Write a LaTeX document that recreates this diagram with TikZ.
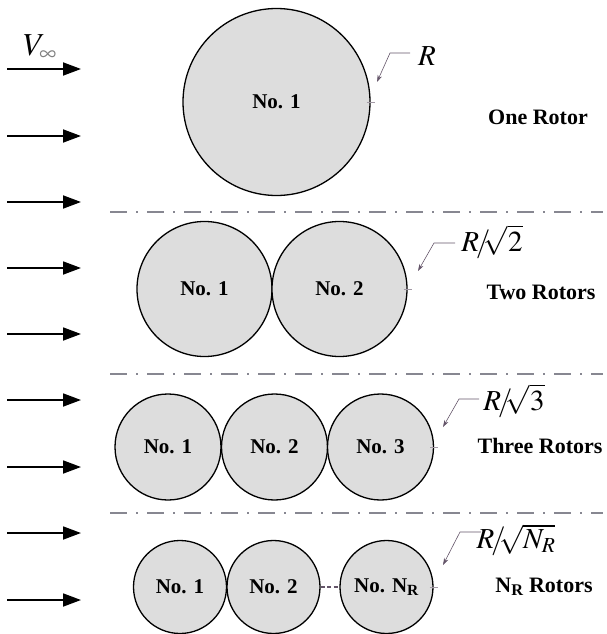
\documentclass[tikz,border=0pt]{standalone}
\usepackage{mathptmx}
\usepackage{fontspec}
\setmainfont{Liberation Serif}
\usetikzlibrary{arrows.meta}
\definecolor{rotorgray}{RGB}{221,221,221}
\definecolor{leadercol}{RGB}{100,85,105}
\definecolor{sepcol}{RGB}{135,135,145}
\newcommand{\flow}[2]{\coordinate (#1a) at (7,#2); \coordinate (#1b) at (81,#2); \draw[flow] (#1a) -- (#1b);}
\newcommand{\tick}[1]{\draw[tickmark] ([xshift=-4pt]#1.east) -- ([xshift=4pt]#1.east);}
\newcommand{\sep}[1]{\draw[separator] (110,#1) -- (603,#1);}

\begin{document}
\begin{tikzpicture}[x = 1pt, y = -1pt,
  rotor/.style = {circle, draw, line width = 1.3pt, fill = rotorgray, inner sep = 0pt,
    minimum size = #1, font = \fontsize{21}{24}\selectfont\bfseries},
  flow/.style = {line width = 1.8pt, -{Triangle[length = 18pt, width = 13pt]}},
  leader/.style = {leadercol, line width = 0.6pt, -{Stealth[length = 7pt, width = 4.5pt]}},
  tickmark/.style = {leadercol!60, line width = 0.5pt},
  separator/.style = {sepcol, line width = 1.2pt, dash pattern = on 17pt off 9pt on 2pt off 9pt},
  radius/.style = {font = \fontsize{29}{31}\selectfont},
  title/.style = {font = \fontsize{22}{26}\selectfont\bfseries}]
\useasboundingbox (0,0) rectangle (607,634);

% free stream
\node[inner sep = 0pt] (vinf) at (40,48) {\fontsize{32}{34}\selectfont $V_{\textcolor{gray}{\infty}}$};
\flow{f1}{69} \flow{f2}{136} \flow{f3}{202}
\flow{f4}{268} \flow{f5}{334}
\flow{f6}{400} \flow{f7}{467}
\flow{f8}{533} \flow{f9}{600}

\sep{212} \sep{374} \sep{513}

% one rotor
\node[rotor = 187pt] (c11) at (276.5,102) {No. 1};
\tick{c11}
\node[radius] (lblA) at (427,56) {$R$};
\coordinate (sA) at (410,53); \coordinate (bA) at (390,53); \coordinate (tA) at (377,82);
\draw[leader] (sA) -- (bA) -- (tA);
\node[title] (tOne) at (538,117) {One Rotor};

% two rotors
\node[rotor = 135pt] (c21) at (204.5,289) {No. 1};
\node[rotor = 135pt] (c22) at (339.5,289) {No. 2};
\tick{c22}
\node[radius] (lblB) at (492,242) {$R\!/\!\!\sqrt{2}$};
\coordinate (sB) at (455,243); \coordinate (bB) at (434,243); \coordinate (tB) at (418,271);
\draw[leader] (sB) -- (bB) -- (tB);
\node[title] (tTwo) at (541,292) {Two Rotors};

% three rotors
\node[rotor = 106pt] (c31) at (168,447) {No. 1};
\node[rotor = 106pt] (c32) at (274.5,447) {No. 2};
\node[rotor = 106pt] (c33) at (380.5,447) {No. 3};
\tick{c33}
\node[radius] (lblC) at (514,401) {$R\!/\!\!\sqrt{3}$};
\coordinate (sC) at (479,399); \coordinate (bC) at (459,399); \coordinate (tC) at (443,427);
\draw[leader] (sC) -- (bC) -- (tC);
\node[title] (tThree) at (540,446) {Three Rotors};

% N_R rotors
\node[rotor = 93pt] (c41) at (180,587) {No. 1};
\node[rotor = 93pt] (c42) at (273.5,587) {No. 2};
\node[rotor = 93pt] (c4n) at (386.5,587) {No. N\textsubscript{R}};
\draw[leadercol, line width = 1.4pt, dash pattern = on 4pt off 2.5pt] (c42.east) -- (c4n.west);
\tick{c4n}
\node[radius] (lblD) at (516,540) {$R\!/\!\!\sqrt{N_R}$};
\coordinate (sD) at (481,532); \coordinate (bD) at (460,532); \coordinate (tD) at (443,565);
\draw[leader] (sD) -- (bD) -- (tD);
\node[title] (tN) at (544,587) {N\textsubscript{R} Rotors};
\end{tikzpicture}
\end{document}
